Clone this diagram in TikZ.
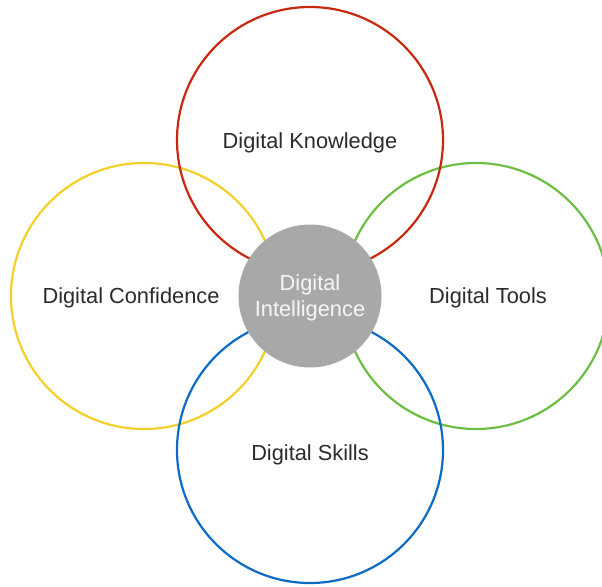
\documentclass[tikz,border=0pt]{standalone}
\usepackage{fontspec}
\setmainfont{Liberation Sans}
\definecolor{knowred}{HTML}{C8290E}
\definecolor{confyellow}{HTML}{F3CF2C}
\definecolor{toolgreen}{HTML}{6CBE45}
\definecolor{skillblue}{HTML}{0C6BC3}
\definecolor{coregray}{HTML}{A7A9A8}
\definecolor{labelgray}{HTML}{2B2B2B}
\tikzset{ring/.style={circle,draw,line width=2.2pt,inner sep=0pt,minimum size=266pt},
  lbl/.style={text=labelgray,font=\fontsize{21.8}{26}\selectfont}}

\begin{document}
\begin{tikzpicture}[x=1pt,y=-1pt]
    \clip (0,0) rectangle (602,586);
    \useasboundingbox (0,0) rectangle (602,586);
    \draw node at (144,296)[name=confidence,ring,draw=confyellow]{};
    \draw node at (476,296)[name=tools,ring,draw=toolgreen]{};
    \draw node at (310,450)[name=skills,ring,draw=skillblue]{};
    \draw node at (310,140)[name=knowledge,ring,draw=knowred]{};
    \draw node at (310,296)[name=core,circle,fill=coregray,inner sep=0pt,minimum size=143pt]{};

    \draw node at (310,143)[name=knowlbl,lbl]{Digital Knowledge};
    \draw node at (131,298)[name=conflbl,lbl]{Digital Confidence};
    \draw node at (488,298)[name=toollbl,lbl]{Digital Tools};
    \draw node at (310,455)[name=skilllbl,lbl]{Digital Skills};
    \draw node at (310,298)[name=corelbl,lbl,text=white!93!gray,align=center,
      font=\fontsize{21.8}{26}\selectfont]{Digital\\Intelligence};
  \end{tikzpicture}
\end{document}
